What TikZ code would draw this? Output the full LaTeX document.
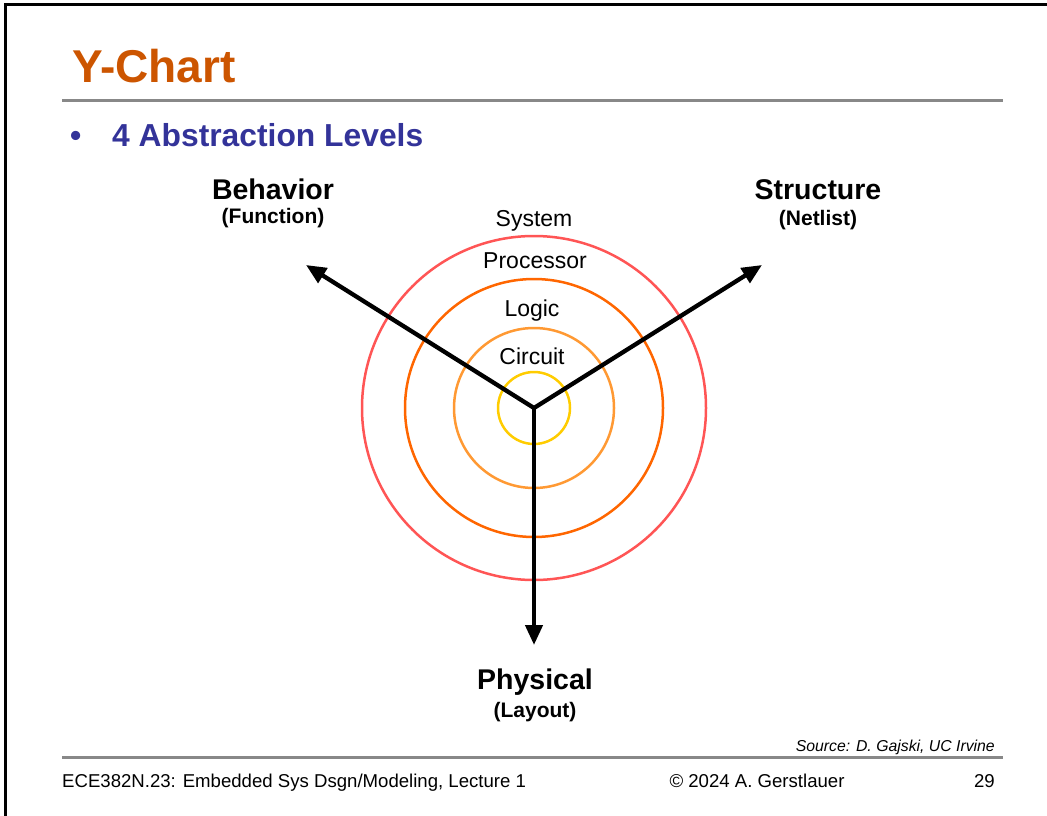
\documentclass[tikz,border=0pt]{standalone}
\usepackage{fontspec}
\setmainfont{Liberation Sans}
\usepackage{tikz}
\usetikzlibrary{arrows.meta,positioning}

\definecolor{titleorange}{RGB}{204,85,0}
\definecolor{bulletblue}{RGB}{51,51,153}
\definecolor{rulegray}{RGB}{136,136,136}
\definecolor{ringsys}{RGB}{255,85,85}
\definecolor{ringproc}{RGB}{255,102,0}
\definecolor{ringlogic}{RGB}{255,153,51}
\definecolor{ringcirc}{RGB}{255,204,0}

\tikzset{
    yaxis/.style={line width=4.3pt,-{Triangle[length=20pt,width=17pt]}},
    ring/.style={line width=2.5pt},
    level/.style={anchor=base,font=\fontsize{23}{23}\selectfont},
    viewname/.style={anchor=base,font=\fontsize{28.5}{28.5}\selectfont\bfseries},
    viewsub/.style={anchor=base,font=\fontsize{21}{21}\selectfont\bfseries},
    footer/.style={anchor=base,font=\fontsize{18.6}{18.6}\selectfont}
}

\begin{document}
\begin{tikzpicture}[x=1pt,y=-1pt]
    \useasboundingbox (0,0) rectangle (1047,816);
    % slide frame
    \draw[line width=3pt,black] (5,816) -- (5,5) -- (1047,5);

    % header
    \node[anchor=base west,inner sep=0pt,text=titleorange,
          font=\fontsize{46}{46}\selectfont\bfseries] (title) at (72,82) {Y-Chart};
    \draw[rulegray,line width=3pt] (62,100) -- (1003,100);
    \node[anchor=base west,inner sep=0pt,text=bulletblue,
          font=\fontsize{32}{32}\selectfont\bfseries] (bullet) at (70,146) {\textbullet};
    \node[anchor=base west,inner sep=0pt,text=bulletblue,
          font=\fontsize{31.8}{31.8}\selectfont\bfseries] (subtitle) at (112,146) {4 Abstraction Levels};

    % Y-chart
    \coordinate (c) at (534,408);
    \coordinate (beh) at (306,265);
    \coordinate (str) at (762,265);
    \coordinate (phy) at (534,645);

    \draw[ring,ringsys]   (c) circle (172);
    \draw[ring,ringproc]  (c) circle (129);
    \draw[ring,ringlogic] (c) circle (80);
    \draw[ring,ringcirc]  (c) circle (36);

    \draw[yaxis] (c) -- (beh);
    \draw[yaxis] (c) -- (str);
    \draw[yaxis] (c) -- (phy);

    \node[level] (system) at (534,226) {System};
    \node[level] (processor) at (535,268) {Processor};
    \node[level] (logic) at (532,316) {Logic};
    \node[level] (circuit) at (532,364) {Circuit};

    \node[viewname] (behavior) at (273,199) {Behavior};
    \node[viewsub] (function) at (273,223) {(Function)};
    \node[viewname] (structure) at (818,199) {Structure};
    \node[viewsub] (netlist) at (818,225) {(Netlist)};
    \node[viewname] (physical) at (535,689) {Physical};
    \node[viewsub] (layout) at (535,717) {(Layout)};

    % footer
    \node[anchor=base east,inner sep=0pt,font=\fontsize{15.8}{15.8}\selectfont\itshape] (source) at (995,751) {Source: D. Gajski, UC Irvine};
    \draw[rulegray,line width=3pt] (62,757) -- (1003,757);
    \node[footer,anchor=base west,inner sep=0pt] (course) at (62,787) {ECE382N.23: Embedded Sys Dsgn/Modeling, Lecture 1};
    \node[footer,inner sep=0pt] (copy) at (757,787) {© 2024 A. Gerstlauer};
    \node[footer,anchor=base east,inner sep=0pt] (page) at (995,787) {29};
\end{tikzpicture}
\end{document}
